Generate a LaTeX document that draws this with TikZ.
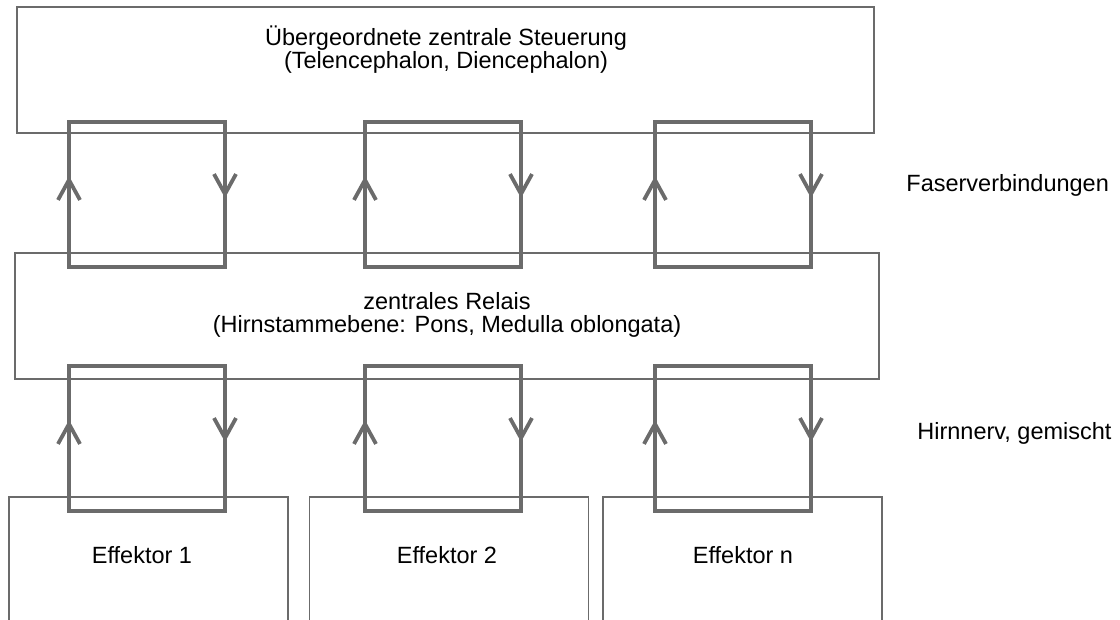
\documentclass[tikz,border=0pt]{standalone}
\usepackage{fontspec}
\setmainfont{Liberation Sans}
\usetikzlibrary{positioning,arrows.meta}
\definecolor{linegray}{HTML}{6B6B6B}

\begin{document}
\begin{tikzpicture}[x=0.5pt, y=-0.5pt, font=\fontsize{11.75}{11.5}\selectfont,
		box/.style={draw=linegray, line width=0.8pt, minimum height=63pt, inner sep=0pt},
		effbox/.style={box, minimum width=139.5pt, minimum height=90pt},
		fibre/.style={draw=linegray, line width=1.9pt},
		tipline/.style={fibre, -{Straight Barb[length=10pt, width=11pt]}}]
		\useasboundingbox (0,0) rectangle (1120,620);
		\clip (0,0) rectangle (1120,620);
		% boxes
		\node[box, minimum width=428.5pt] (steuerung) at (445.5,70) {};
		\node[align=center] (steuerung-l) at (446,50) {Übergeordnete zentrale Steuerung\\(Telencephalon, Diencephalon)};
		\node[box, minimum width=432pt] (relais) at (447,316) {};
		\node[align=center] (relais-l) at (447,315) {zentrales Relais\\(Hirnstammebene: Pons, Medulla oblongata)};
		\node[effbox] (eff1) at (148.5,587) {};
		\node[effbox] (eff2) at (449,587) {};
		\node[effbox] (effn) at (742.5,587) {};
		\node (eff1-l) at (142,555) {Effektor 1};
		\node (eff2-l) at (447,555) {Effektor 2};
		\node (effn-l) at (743,555) {Effektor n};
		% loops
		\foreach \lx [count=\i] in {69,365,655}{
			\foreach \ly/\lvl in {122/fa,366/hn}{
				\coordinate (\lvl\i-nw) at (\lx,\ly);
				\coordinate (\lvl\i-se) at (\lx+156,\ly+145);
				\coordinate (\lvl\i-up) at (\lx,\ly+54);
				\coordinate (\lvl\i-dn) at (\lx+156,\ly+76);
				\draw[fibre] (\lvl\i-nw) rectangle (\lvl\i-se);
				\draw[tipline] (\lvl\i-nw |- \lvl\i-se) -- (\lvl\i-up);
				\draw[tipline] (\lvl\i-nw -| \lvl\i-se) -- (\lvl\i-dn);
			}
		}
		\node[anchor=west, inner sep=0pt] (faser) at (906,185) {Faserverbindungen};
		\node[anchor=west, inner sep=0pt] (hirnnerv) at (917,433) {Hirnnerv, gemischt};
	\end{tikzpicture}
\end{document}
